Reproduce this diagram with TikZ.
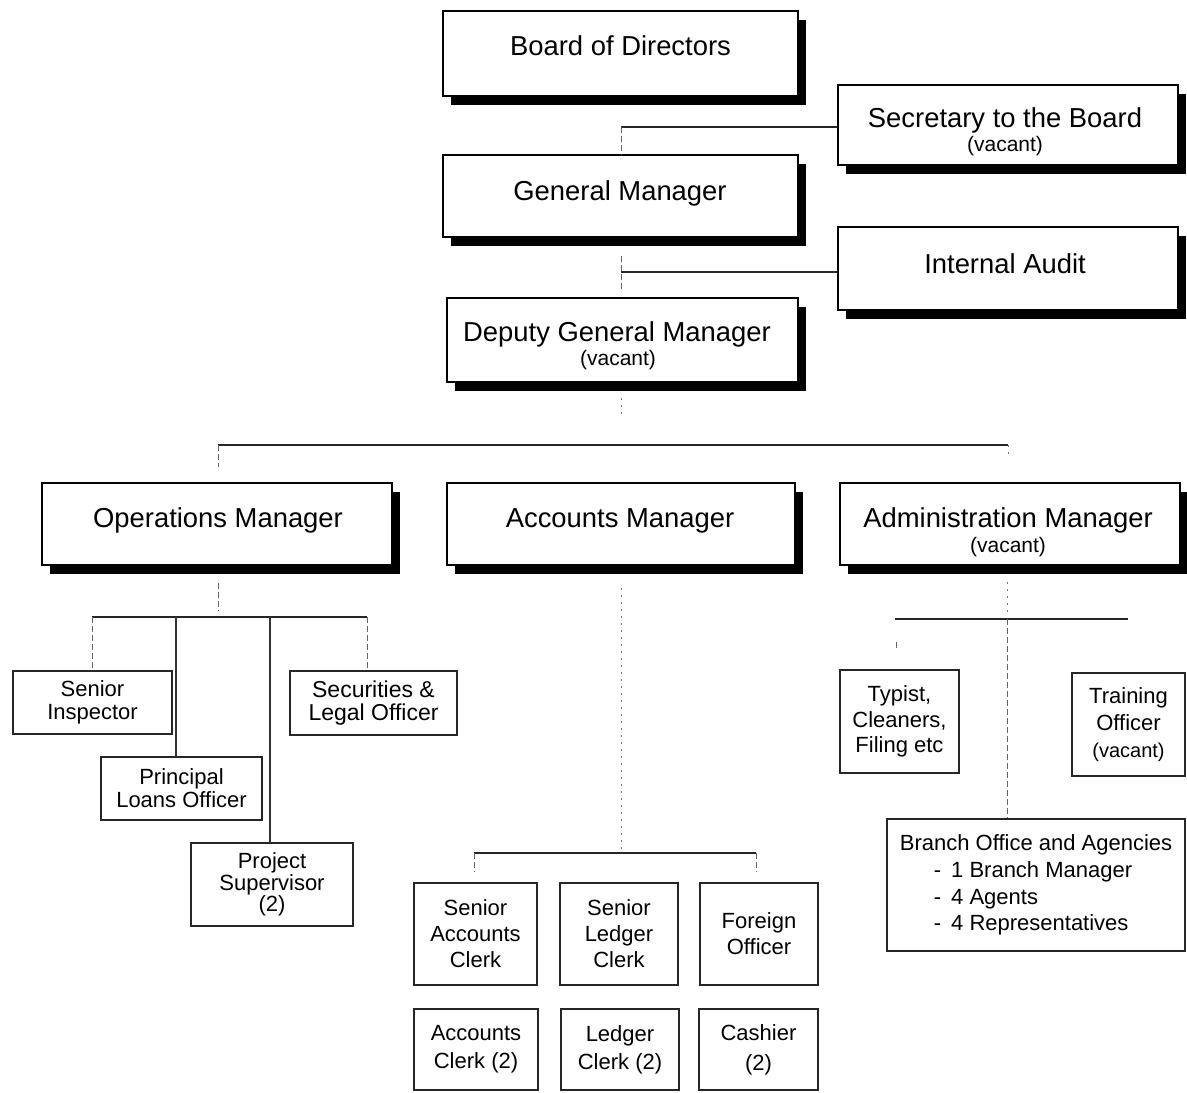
\documentclass[tikz,border=0pt]{standalone}
\usepackage{fontspec}
\setmainfont{Liberation Sans}
\usetikzlibrary{shadows}
\begin{document}
\begin{tikzpicture}[x=0.5pt,y=-0.5pt,
  mainbox/.style={draw=black, line width=0.9pt, fill=white, inner sep=0pt,
    drop shadow={shadow xshift=4pt, shadow yshift=-4.3pt, fill=black, opacity=1}},
  subbox/.style={draw=black!85, line width=0.8pt, fill=white, inner sep=0pt,
    align=center, font=\fontsize{11}{12}\selectfont},
  maintext/.style={anchor=base, inner sep=0pt, font=\fontsize{13.7}{15}\selectfont},
  vactext/.style={anchor=base, inner sep=0pt, font=\fontsize{10.5}{12}\selectfont},
  hline/.style={draw=black!85, line width=0.8pt},
  vlink/.style={draw=black!60, line width=0.5pt, dash pattern=on 3pt off 1.5pt},
  dotlink/.style={draw=black!55, line width=0.5pt, dash pattern=on 1pt off 2.5pt},
  solidlink/.style={draw=black!80, line width=0.6pt},
]
\useasboundingbox (0,0) rectangle (1187,1092);

% ---- top management (shadowed boxes) ----
\node[mainbox, minimum width=177.5pt, minimum height=42.5pt] (bod) at (620.5,53.5) {};
\node[maintext] (bod-t) at (620.5,55) {Board of Directors};

\node[mainbox, minimum width=170pt, minimum height=40pt] (sec) at (1008,125) {};
\node[maintext] (sec-t) at (1005,127) {Secretary to the Board};
\node[vactext] (sec-v) at (1005,151) {(vacant)};

\node[mainbox, minimum width=177.5pt, minimum height=41pt] (gm) at (620.5,196) {};
\node[maintext] (gm-t) at (620,200) {General Manager};

\node[mainbox, minimum width=170pt, minimum height=41.5pt] (ia) at (1008,268.5) {};
\node[maintext] (ia-t) at (1005,273) {Internal Audit};

\node[mainbox, minimum width=175.5pt, minimum height=42pt] (dgm) at (622.5,340) {};
\node[maintext] (dgm-t) at (617,341) {Deputy General Manager};
\node[vactext] (dgm-v) at (618,365) {(vacant)};

\node[mainbox, minimum width=175pt, minimum height=41pt] (ops) at (217,524) {};
\node[maintext] (ops-t) at (218,527) {Operations Manager};

\node[mainbox, minimum width=174pt, minimum height=41pt] (acc) at (621,524) {};
\node[maintext] (acc-t) at (620,527) {Accounts Manager};

\node[mainbox, minimum width=170pt, minimum height=41pt] (adm) at (1010,524) {};
\node[maintext] (adm-t) at (1008,527) {Administration Manager};
\node[vactext] (adm-v) at (1008,552) {(vacant)};

% ---- operations staff ----
\node[subbox, minimum width=79.5pt, minimum height=31.5pt, font=\fontsize{11}{11.5}\selectfont]
  (si) at (92.5,702.5) {Senior\\Inspector};
\node[subbox, minimum width=80.5pt, minimum height=31.5pt, font=\fontsize{11}{11.5}\selectfont]
  (plo) at (181.5,788.5) {Principal\\Loans Officer};
\node[subbox, minimum width=81pt, minimum height=41.5pt, font=\fontsize{11}{10.8}\selectfont]
  (ps) at (272,884.5) {Project\\Supervisor\\(2)};
\node[subbox, minimum width=83.5pt, minimum height=32pt, font=\fontsize{11.5}{11.5}\selectfont]
  (slo) at (373.5,703) {Securities \&\\Legal Officer};

% ---- accounts staff ----
\node[subbox, minimum width=61.5pt, minimum height=51pt, font=\fontsize{11}{13}\selectfont]
  (sac) at (475.5,934) {Senior\\Accounts\\Clerk};
\node[subbox, minimum width=59pt, minimum height=51pt, font=\fontsize{11}{13}\selectfont]
  (slc) at (619,934) {Senior\\Ledger\\Clerk};
\node[subbox, minimum width=59pt, minimum height=51pt, font=\fontsize{11}{13}\selectfont]
  (fo) at (759,934) {Foreign\\Officer};
\node[subbox, minimum width=62pt, minimum height=40.5pt, font=\fontsize{11}{14}\selectfont]
  (ac) at (476,1049.5) {Accounts\\Clerk (2)};
\node[subbox, minimum width=59pt, minimum height=40.5pt, font=\fontsize{11}{14}\selectfont]
  (lc) at (620,1049.5) {Ledger\\Clerk (2)};
\node[subbox, minimum width=59.5pt, minimum height=40.5pt, font=\fontsize{11}{15}\selectfont]
  (ca) at (758.5,1049.5) {Cashier\\(2)};

% ---- administration staff ----
\node[subbox, minimum width=59.5pt, minimum height=51.5pt, font=\fontsize{11}{12.8}\selectfont]
  (typ) at (899.5,721.5) {Typist,\\Cleaners,\\Filing etc};
\node[subbox, minimum width=56.5pt, minimum height=51.5pt, font=\fontsize{11}{13.5}\selectfont]
  (to) at (1128.5,724.5) {Training\\Officer\\{\fontsize{10}{12}\selectfont(vacant)}};
\node[subbox, minimum width=149pt, minimum height=66pt, align=left, font=\fontsize{11}{13.3}\selectfont]
  (br) at (1036,885) {Branch Office and Agencies\\
  \hspace*{17pt}-\hspace{5pt}1 Branch Manager\\
  \hspace*{17pt}-\hspace{5pt}4 Agents\\
  \hspace*{17pt}-\hspace{5pt}4 Representatives};

% ---- connectors: board level ----
\coordinate (j-sec) at (621,127);
\draw[hline] (j-sec) -- (sec.west |- j-sec);
\draw[vlink] (j-sec) -- (j-sec |- gm.north);

\coordinate (j-ia) at (621,272);
\coordinate (j-ia-up) at (621,256);
\coordinate (j-ia-dn) at (621,290);
\draw[hline] (j-ia) -- (ia.west |- j-ia);
\draw[vlink] (j-ia-up) -- (j-ia-dn);

\coordinate (dgm-a) at (621,398);
\coordinate (dgm-b) at (621,414);
\draw[dotlink] (dgm-a) -- (dgm-b);

% ---- connectors: managers ----
\coordinate (m-l) at (218,445);
\coordinate (m-r) at (1008,445);
\coordinate (m-l-end) at (218,467);
\coordinate (m-r-end) at (1008,456);
\draw[hline] (m-l) -- (m-r);
\draw[vlink] (m-l) -- (m-l-end);
\draw[dotlink] (m-r) -- (m-r-end);

% ---- connectors: operations ----
\coordinate (o-top) at (218,583);
\coordinate (o-top-end) at (218,611);
\coordinate (o-l) at (92,617);
\coordinate (o-plo) at (176,617);
\coordinate (o-ps) at (270,617);
\coordinate (o-r) at (367,617);
\draw[vlink] (o-top) -- (o-top-end);
\draw[hline] (o-l) -- (o-r);
\draw[vlink] (o-l) -- (o-l |- si.north);
\draw[solidlink] (o-plo) -- (o-plo |- plo.north);
\draw[solidlink] (o-ps) -- (o-ps |- ps.north);
\draw[vlink] (o-r) -- (o-r |- slo.north);

% ---- connectors: accounts ----
\coordinate (a-top) at (621,588);
\coordinate (a-m) at (621,853);
\coordinate (a-l) at (474,853);
\coordinate (a-r) at (756,853);
\coordinate (a-l-end) at (474,872);
\coordinate (a-r-end) at (756,872);
\draw[dotlink] (a-top) -- (a-m);
\draw[hline] (a-l) -- (a-r);
\draw[vlink] (a-l) -- (a-l-end);
\draw[vlink] (a-r) -- (a-r-end);

% ---- connectors: administration ----
\coordinate (d-top) at (1007,582);
\coordinate (d-top-end) at (1007,612);
\coordinate (d-l) at (895,619);
\coordinate (d-m) at (1007,619);
\coordinate (d-r) at (1128,619);
\coordinate (d-tick-a) at (896,642);
\coordinate (d-tick-b) at (896,651);
\draw[dotlink] (d-top) -- (d-top-end);
\draw[hline] (d-l) -- (d-r);
\draw[vlink] (d-tick-a) -- (d-tick-b);
\draw[vlink] (d-m) -- (d-m |- br.north);
\end{tikzpicture}
\end{document}
